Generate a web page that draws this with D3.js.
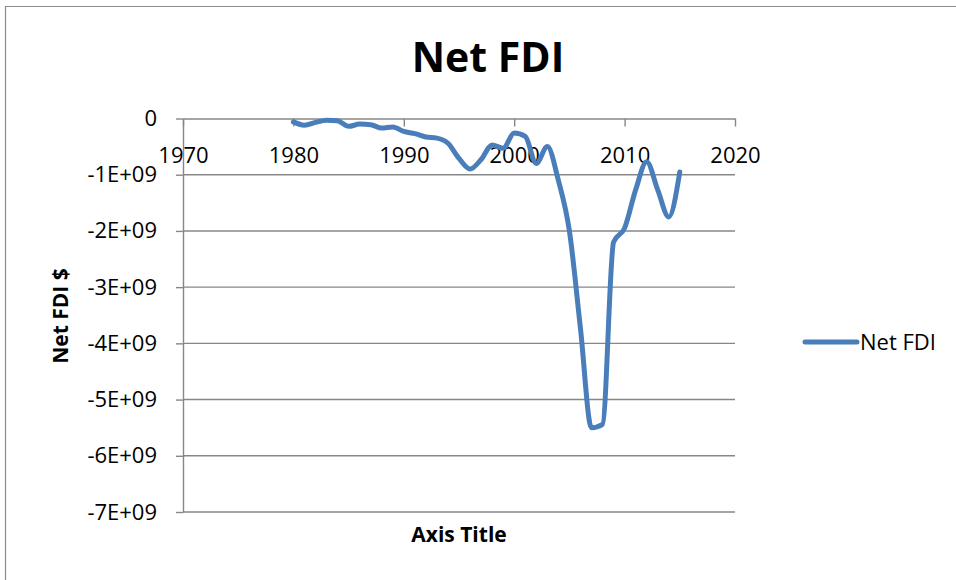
<!DOCTYPE html>
<html>
<head>
<meta charset="utf-8">
<script src="https://cdn.jsdelivr.net/npm/d3@7"></script>
<style>
  body { margin: 0; background: #fff; }
  text { font-family: "Open Sans", sans-serif; fill: #000; }
</style>
</head>
<body>
<svg id="chart" width="956" height="580"></svg>
<script>
const years = [1980, 1981, 1982, 1983, 1984, 1985, 1986, 1987, 1988, 1989,
               1990, 1991, 1992, 1993, 1994, 1995, 1996, 1997, 1998, 1999,
               2000, 2001, 2002, 2003, 2004, 2005, 2006, 2007, 2008, 2009,
               2010, 2011, 2012, 2013, 2014, 2015];
// Net FDI, billions of $
const netFdi = [-0.06, -0.12, -0.07, -0.03, -0.04, -0.14, -0.10, -0.11, -0.17, -0.15,
                -0.23, -0.27, -0.33, -0.35, -0.44, -0.71, -0.90, -0.73, -0.47, -0.53,
                -0.26, -0.32, -0.80, -0.50, -1.10, -2.00, -3.73, -5.50, -5.44, -2.20,
                -1.95, -1.27, -0.77, -1.27, -1.75, -0.95];
const xTicks = [1970, 1980, 1990, 2000, 2010, 2020];
const yTicks = [0, -1e9, -2e9, -3e9, -4e9, -5e9, -6e9, -7e9];

const data = years.map((yr, i) => ({ year: yr, value: netFdi[i] * 1e9 }));

const svg = d3.select("#chart");
const gridColor = "#878787";

// chart area border
svg.append("path")
    .attr("d", "M5.5,580V6.5H956")
    .attr("fill", "none")
    .attr("stroke", "#8c8c8c")
    .attr("stroke-width", 1.2);

const x = d3.scaleLinear().domain([1970, 2020]).range([183, 735]);
const y = d3.scaleLinear().domain([-7e9, 0]).range([512, 118.5]);

// excel style labels: -1E+09 (plain hyphen)
const fmt = d => d === 0 ? "0" :
    d3.format(".0e")(d).toUpperCase()
        .replace("\u2212", "-")
        .replace(/E([+-])(\d)$/, "E$10$2");

// horizontal gridlines
svg.append("g")
    .selectAll("line")
    .data(yTicks.filter(d => d !== 0))
    .enter()
    .append("line")
    .attr("x1", x(1970))
    .attr("x2", x(2020))
    .attr("y1", d => y(d))
    .attr("y2", d => y(d))
    .attr("stroke", gridColor)
    .attr("stroke-width", 1.4);

// y axis
const yAxis = svg.append("g")
    .attr("transform", `translate(${x(1970)},0)`)
    .call(d3.axisLeft(y).tickValues(yTicks).tickFormat(fmt)
        .tickSize(7).tickSizeOuter(0).tickPadding(19));
yAxis.select(".domain").attr("stroke", gridColor).attr("stroke-width", 1.4);
yAxis.selectAll(".tick line").attr("stroke", gridColor).attr("stroke-width", 1.4);
yAxis.selectAll("text")
    .style("font-size", "22px")
    .attr("fill", "#000");

// x axis sits on the zero line
const xAxis = svg.append("g")
    .attr("transform", `translate(0,${y(0)})`)
    .call(d3.axisBottom(x).tickValues(xTicks).tickFormat(d3.format("d"))
        .tickSize(8).tickSizeOuter(0));
xAxis.select(".domain").attr("stroke", gridColor).attr("stroke-width", 1.4);
xAxis.selectAll(".tick line").attr("stroke", gridColor).attr("stroke-width", 1.4);
xAxis.selectAll("text")
    .attr("y", 44)
    .attr("dy", null)
    .style("font-size", "22px")
    .attr("fill", "#000");

// the series, smoothed
const line = d3.line()
    .x(d => x(d.year))
    .y(d => y(d.value))
    .curve(d3.curveMonotoneX);

svg.append("path")
    .datum(data)
    .attr("d", line)
    .attr("fill", "none")
    .attr("stroke", "#4a7ebb")
    .attr("stroke-width", 5)
    .attr("stroke-linejoin", "round")
    .attr("stroke-linecap", "round");

// titles
svg.append("text")
    .attr("x", 488)
    .attr("y", 72)
    .attr("text-anchor", "middle")
    .style("font-size", "41px")
    .style("font-weight", "bold")
    .text("Net FDI");

svg.append("text")
    .attr("x", x(1995))
    .attr("y", 542)
    .attr("text-anchor", "middle")
    .style("font-size", "21px")
    .style("font-weight", "bold")
    .text("Axis Title");

svg.append("text")
    .attr("transform", "translate(68,316) rotate(-90)")
    .attr("text-anchor", "middle")
    .style("font-size", "21px")
    .style("font-weight", "bold")
    .text("Net FDI $");

// legend
const legend = svg.append("g").attr("transform", "translate(805,342)");
legend.append("line")
    .attr("x1", 0)
    .attr("x2", 52)
    .attr("stroke", "#4a7ebb")
    .attr("stroke-width", 5)
    .attr("stroke-linecap", "round");
legend.append("text")
    .attr("x", 55)
    .attr("dy", "0.35em")
    .style("font-size", "22px")
    .text("Net FDI");
</script>
</body>
</html>
